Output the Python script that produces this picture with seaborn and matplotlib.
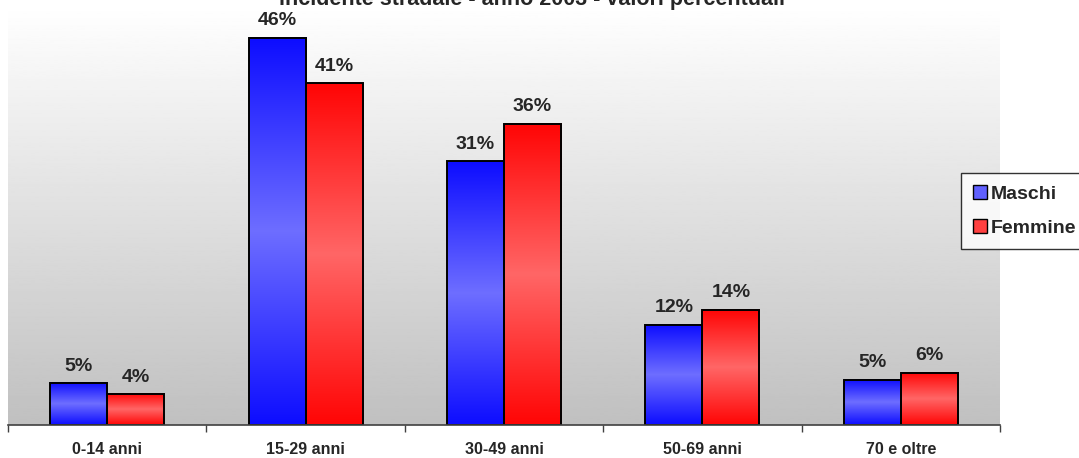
import numpy as np
import pandas as pd
import seaborn as sns
import matplotlib.pyplot as plt
from matplotlib.patches import Patch

categories = ['0-14 anni', '15-29 anni', '30-49 anni', '50-69 anni', '70 e oltre']
maschi = [5.0, 46.0, 31.3, 11.9, 5.4]
femmine = [3.7, 40.6, 35.8, 13.7, 6.2]
series = ['Maschi', 'Femmine']
title = 'incidente stradale - anno 2003 - valori percentuali'

df = pd.DataFrame({
    'cat': categories * 2,
    'val': maschi + femmine,
    'sesso': ['Maschi'] * len(categories) + ['Femmine'] * len(categories),
})

sns.set_style('white')
plt.rcParams['font.family'] = ['Liberation Sans', 'DejaVu Sans']

fig = plt.figure(figsize=(10.79, 4.58), dpi=100)
ax = fig.add_axes([8 / 1079, 1 - 425 / 458, 992 / 1079, 421 / 458])

pal = {'Maschi': '#0000ff', 'Femmine': '#ff0000'}
sns.barplot(data=df, x='cat', y='val', hue='sesso', hue_order=series,
            palette=pal, width=0.575, ax=ax, legend=False, errorbar=None,
            edgecolor='black', linewidth=1.4, saturation=1)

# background gradient white -> grey
bg = np.linspace(1.0, 0.753, 256).reshape(-1, 1)
ax.imshow(bg, cmap='gray', vmin=0, vmax=1, extent=[0, 1, 0, 1],
          transform=ax.transAxes, aspect='auto', zorder=0)
ax.patch.set_visible(False)

# pipe-like shading on the bars
t = np.linspace(0, 1, 200)
shade = 1 - np.abs(2 * t - 1)
dark = {'Maschi': np.array([0.05, 0.05, 1.0]), 'Femmine': np.array([1.0, 0.02, 0.02])}
light = {'Maschi': np.array([0.43, 0.43, 1.0]), 'Femmine': np.array([1.0, 0.40, 0.40])}
for name, cont in zip(series, ax.containers):
    for bar in cont:
        x0, y0, w, h = bar.get_x(), bar.get_y(), bar.get_width(), bar.get_height()
        img = dark[name] + (light[name] - dark[name]) * shade[:, None]
        ax.imshow(img[:, None, :], extent=[x0, x0 + w, y0, y0 + h],
                  aspect='auto', origin='lower', zorder=1)
        bar.set_facecolor('none')
        bar.set_zorder(2)
    ax.bar_label(cont, labels=[f'{v:.0f}%' for v in cont.datavalues],
                 padding=6, fontsize=14, fontweight='bold')

ax.set_xlim(-0.5, len(categories) - 0.5)
ax.set_ylim(0, 50)
ax.set_xlabel('')
ax.set_ylabel('')
ax.set_yticks([])
ax.set_xticks(range(len(categories)))
ax.set_xticklabels(categories, fontsize=11.5, fontweight='bold')
ax.set_xticks(np.arange(-0.5, len(categories), 1), minor=True)
ax.tick_params(axis='x', which='major', length=0, pad=12)
ax.tick_params(axis='x', which='minor', length=5, width=1, color='#404040',
               direction='out', bottom=True)
for s in ['top', 'right', 'left']:
    ax.spines[s].set_visible(False)
ax.spines['bottom'].set_color('#404040')
ax.spines['bottom'].set_linewidth(1.2)

fig.text(0.493, 1.0, title, ha='center', va='center',
         fontsize=15.5, fontweight='bold')

handles = [Patch(facecolor='#6060ff', edgecolor='black'),
           Patch(facecolor='#ff4040', edgecolor='black')]
leg = fig.legend(handles, series, loc='upper left',
                 bbox_to_anchor=(961 / 1079, 1 - 173 / 458),
                 prop={'size': 14, 'weight': 'bold'}, handlelength=0.75,
                 handleheight=0.75, handletextpad=0.2, labelspacing=0.85,
                 fancybox=False, borderpad=0.6, borderaxespad=0)
leg.get_frame().set_edgecolor('black')
leg.get_frame().set_linewidth(1.0)

fig.savefig('out.png', dpi=100)
